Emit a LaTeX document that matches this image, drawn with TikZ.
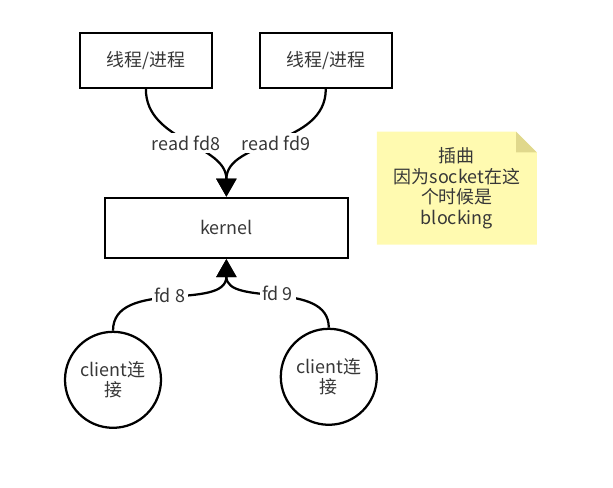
\documentclass[tikz,border=0pt]{standalone}
\usepackage{fontspec}
\setmainfont{Noto Sans CJK SC}
\usepackage{xcolor}
\usetikzlibrary{arrows.meta}

\definecolor{notefill}{RGB}{255,250,176}
\definecolor{notefold}{RGB}{224,216,140}
\definecolor{txtgray}{RGB}{55,55,55}

\begin{document}
\begin{tikzpicture}[
    node distance=4.43cm,
    font=\fontsize{13.5pt}{15.5pt}\selectfont,
    box/.style={rectangle, draw, line width=1.7pt, minimum width=3.49cm, minimum height=1.46cm, align=center, text=txtgray},
    client/.style={circle, draw, line width=1.7pt, minimum size=2.54cm, align=center, text=txtgray},
    note/.style={rectangle, minimum width=4.23cm, minimum height=2.99cm, align=center, text=txtgray,
        path picture={
            \fill[notefill] (path picture bounding box.south west) -- (path picture bounding box.north west)
                -- ([xshift=-0.55cm]path picture bounding box.north east) -- ([yshift=-0.55cm]path picture bounding box.north east)
                -- (path picture bounding box.south east) -- cycle;
            \fill[notefold] ([xshift=-0.55cm]path picture bounding box.north east) -- ([yshift=-0.55cm]path picture bounding box.north east)
                -- ([xshift=-0.55cm, yshift=-0.55cm]path picture bounding box.north east) -- cycle;
        }},
    lbl/.style={fill=white, inner sep=2pt, text=txtgray},
    arrow/.style={-{Triangle[width=0.53cm, length=0.48cm]}, line width=1.7pt}
]
    \useasboundingbox (-5.99,-6.88) rectangle (10.23,6.03);
    % Kernel
    \node[box, minimum width=6.43cm, minimum height=1.59cm] (kernel) {kernel};
    % Threads / processes
    \node[box, above of=kernel, xshift=-2.13cm] (t1) {线程/进程};
    \node[box, above of=kernel, xshift=2.63cm] (t2) {线程/进程};
    % Clients
    \node[client, below of=kernel, xshift=-3.00cm, yshift=0.41cm] (c1) {client连\\接};
    \node[client, below of=kernel, xshift=2.71cm, yshift=0.49cm] (c2) {client连\\接};
    % Note
    \node[note, right of=kernel, xshift=1.67cm, yshift=1.05cm] (note) {插曲\\因为socket在这\\个时候是\\blocking};
    % Arrows
    \draw[arrow] (t1.south) to[out=-90, in=90] node[lbl] {read fd8} (kernel.north);
    \draw[arrow] (t2.south) to[out=-90, in=90] node[lbl] {read fd9} (kernel.north);
    \draw[arrow] (c1.north) to[out=90, in=-90] node[lbl] {fd 8} (kernel.south);
    \draw[arrow] (c2.north) to[out=90, in=-90] node[lbl] {fd 9} (kernel.south);
\end{tikzpicture}
\end{document}
